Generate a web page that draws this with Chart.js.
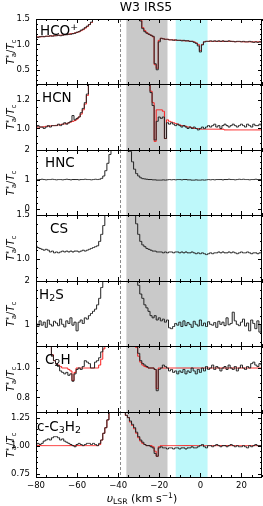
<!DOCTYPE html>
<html>
<head>
<meta charset="utf-8">
<script src="https://cdn.jsdelivr.net/npm/chart.js@4/dist/chart.umd.min.js"></script>
<style>
  body { margin: 0; background: #fff; }
  #wrap { position: relative; width: 263px; height: 506px; overflow: hidden; font-family: 'DejaVu Sans', sans-serif; color: #000; }
  #wrap canvas { position: absolute; left: 0; top: 0; }
  .txt { position: absolute; white-space: nowrap; line-height: 1; }
  .mol { font-size: 13.5px; }
  .ylab { font-size: 10px; transform: translate(-50%, -50%) rotate(-90deg); }
  .sup { font-size: 70%; position: relative; top: -0.5em; }
  .sub { font-size: 70%; position: relative; top: 0.3em; }
  i { font-family: 'DejaVu Sans', sans-serif; }
</style>
</head>
<body>
<div id="wrap"></div>
<script>
// velocity grid (km/s)
const velocity = [
  -80, -79, -78, -77, -76, -75, -74, -73, -72, -71,
  -70, -69, -68, -67, -66, -65, -64, -63, -62, -61,
  -60, -59, -58, -57, -56, -55, -54, -53, -52, -51,
  -50, -49, -48, -47, -46, -45, -44, -43, -42, -41,
  -40, -39, -38, -37, -36, -35, -34, -33, -32, -31,
  -30, -29, -28, -27, -26, -25, -24, -23, -22, -21,
  -20, -19, -18, -17, -16, -15, -14, -13, -12, -11,
  -10, -9, -8, -7, -6, -5, -4, -3, -2, -1,
  0, 1, 2, 3, 4, 5, 6, 7, 8, 9,
  10, 11, 12, 13, 14, 15, 16, 17, 18, 19,
  20, 21, 22, 23, 24, 25, 26, 27, 28, 29,
  30
];

const hcoObs = [
  1.15, 1.14, 1.15, 1.16, 1.15, 1.16, 1.16, 1.17, 1.16, 1.17,
  1.17, 1.18, 1.17, 1.18, 1.19, 1.19, 1.20, 1.20, 1.21, 1.22,
  1.24, 1.25, 1.28, 1.30, 1.33, 1.36, 1.39, 1.44, 1.49, 1.56,
  1.66, 1.80, 2.00, 2.30, 2.60, 3.00, 3.00, 3.00, 3.00, 3.00,
  3.00, 3.00, 3.00, 3.00, 3.00, 3.00, 3.00, 3.00, 2.60, 2.00,
  1.70, 1.46, 1.31, 1.25, 1.22, 1.20, 1.18, 1.16, 0.62, 0.50,
  1.05, 1.12, 1.11, 1.10, 1.10, 1.09, 1.09, 1.08, 1.09, 1.08,
  1.08, 1.07, 1.08, 1.07, 1.07, 1.06, 1.06, 1.04, 1.02, 0.97,
  0.85, 0.99, 1.05, 1.06, 1.06, 1.07, 1.06, 1.07, 1.06, 1.07,
  1.06, 1.07, 1.06, 1.06, 1.07, 1.06, 1.06, 1.05, 1.06, 1.06,
  1.05, 1.06, 1.05, 1.05, 1.06, 1.05, 1.04, 1.05, 1.04, 1.05,
  1.04
];
const hcoFit = [
  1.14, 1.145, 1.15, 1.15, 1.155, 1.16, 1.16, 1.165, 1.17, 1.17,
  1.175, 1.18, 1.18, 1.185, 1.19, 1.195, 1.20, 1.21, 1.215, 1.225,
  1.235, 1.25, 1.27, 1.29, 1.32, 1.35, 1.39, 1.43, 1.49, 1.56,
  1.68, 1.85, 2.10, 2.40, 2.80, 3.00, 3.00, 3.00, 3.00, 3.00,
  3.00, 3.00, 3.00, 3.00, 3.00, 3.00, 3.00, 3.00, 2.70, 2.10,
  1.72, 1.48, 1.33, 1.27, 1.23, 1.20, 1.18, 1.15, 0.60, 0.53,
  1.08, 1.12, 1.11, 1.10, 1.10, 1.09, 1.09, 1.09, 1.08, 1.08,
  1.08, 1.08, 1.07, 1.07, 1.07, 1.06, 1.06, 1.05, 1.03, 1.00,
  0.88, 1.00, 1.05, 1.06, 1.06, 1.06, 1.06, 1.06, 1.06, 1.06,
  1.06, 1.06, 1.06, 1.06, 1.06, 1.06, 1.055, 1.055, 1.055, 1.055,
  1.055, 1.05, 1.05, 1.05, 1.05, 1.05, 1.05, 1.05, 1.05, 1.05,
  1.05
];

const hcnObs = [
  1.01, 1.02, 1.01, 1.01, 1.00, 1.01, 1.02, 1.01, 1.02, 1.02,
  1.02, 1.03, 1.02, 1.03, 1.04, 1.03, 1.04, 1.05, 1.09, 1.06,
  1.07, 1.08, 1.11, 1.14, 1.18, 1.24, 1.32, 1.45, 1.70, 2.00,
  2.50, 2.50, 2.50, 2.50, 2.50, 2.50, 2.50, 2.50, 2.50, 2.50,
  2.50, 2.50, 2.50, 2.50, 2.50, 2.50, 2.50, 2.50, 2.50, 2.50,
  2.50, 2.50, 2.50, 2.50, 2.50, 2.50, 1.25, 1.16, 0.92, 1.05,
  1.08, 1.07, 1.08, 0.93, 1.04, 1.03, 1.04, 1.03, 1.02, 1.03,
  1.02, 1.01, 1.02, 1.01, 1.00, 1.01, 1.00, 1.01, 1.00, 0.99,
  1.00, 1.01, 1.00, 1.01, 1.02, 1.01, 1.02, 1.03, 1.01, 1.02,
  1.00, 1.02, 1.03, 1.02, 1.01, 1.02, 1.03, 1.02, 1.01, 1.02,
  1.03, 1.02, 1.01, 1.03, 1.02, 1.01, 1.03, 1.02, 1.02, 1.03,
  1.02
];
const hcnFit = [
  1.01, 1.01, 1.01, 1.01, 1.012, 1.015, 1.015, 1.018, 1.02, 1.02,
  1.022, 1.025, 1.028, 1.03, 1.032, 1.035, 1.04, 1.045, 1.05, 1.055,
  1.065, 1.08, 1.10, 1.13, 1.17, 1.23, 1.32, 1.45, 1.65, 2.00,
  2.50, 2.50, 2.50, 2.50, 2.50, 2.50, 2.50, 2.50, 2.50, 2.50,
  2.50, 2.50, 2.50, 2.50, 2.50, 2.50, 2.50, 2.50, 2.50, 2.50,
  2.50, 2.50, 2.50, 2.50, 2.50, 2.50, 1.26, 1.18, 0.91, 1.13,
  1.13, 1.13, 1.12, 0.93, 1.06, 1.05, 1.045, 1.04, 1.035, 1.03,
  1.025, 1.02, 1.02, 1.015, 1.01, 1.01, 1.005, 1.00, 1.00, 1.00,
  0.995, 0.995, 0.995, 0.995, 0.995, 0.995, 0.995, 0.995, 0.995, 0.995,
  0.995, 0.995, 0.99, 0.99, 0.99, 0.99, 0.99, 0.99, 0.99, 0.99,
  0.99, 0.99, 0.99, 0.99, 0.99, 0.99, 0.99, 0.99, 0.99, 0.99,
  0.99
];

const hncObs = [
  1.00, 0.99, 1.00, 1.01, 1.00, 0.99, 1.00, 1.00, 1.01, 1.00,
  0.99, 1.00, 1.00, 0.99, 1.00, 1.01, 1.00, 0.99, 1.00, 1.00,
  1.00, 0.99, 1.00, 1.00, 1.01, 1.00, 1.00, 0.99, 1.00, 1.01,
  1.00, 1.01, 1.04, 1.12, 1.30, 1.55, 1.85, 2.30, 3.00, 3.00,
  3.00, 3.00, 3.00, 3.00, 3.00, 2.50, 1.95, 1.60, 1.35, 1.20,
  1.12, 1.06, 1.03, 1.02, 1.01, 1.00, 1.00, 0.99, 0.99, 0.98,
  0.98, 0.98, 0.99, 0.98, 0.99, 1.00, 0.99, 1.00, 0.99, 1.00,
  1.00, 0.99, 1.00, 1.00, 0.99, 0.99, 0.98, 0.98, 0.99, 0.98,
  0.98, 0.99, 0.98, 0.99, 1.00, 0.99, 1.00, 0.99, 1.00, 1.00,
  1.00, 0.99, 1.00, 1.00, 1.01, 1.00, 1.00, 0.99, 1.00, 1.01,
  1.00, 1.01, 1.00, 1.00, 0.99, 1.00, 1.00, 1.01, 1.00, 1.00,
  1.00
];

const csObs = [
  1.15, 1.13, 1.12, 1.11, 1.10, 1.11, 1.10, 1.08, 1.09, 1.07,
  1.08, 1.07, 1.08, 1.09, 1.08, 1.09, 1.08, 1.09, 1.08, 1.09,
  1.09, 1.08, 1.09, 1.10, 1.09, 1.10, 1.11, 1.12, 1.13, 1.14,
  1.15, 1.20, 1.28, 1.38, 1.70, 2.50, 2.50, 2.50, 2.50, 2.50,
  2.50, 2.50, 2.50, 2.50, 2.50, 2.50, 2.50, 2.50, 2.20, 1.40,
  1.28, 1.20, 1.16, 1.14, 1.12, 1.11, 1.10, 1.09, 1.09, 1.08,
  1.08, 1.08, 1.07, 1.08, 1.07, 1.08, 1.08, 1.07, 1.08, 1.08,
  1.07, 1.08, 1.07, 1.08, 1.07, 1.07, 1.08, 1.07, 1.06, 1.07,
  1.06, 1.07, 1.06, 1.05, 1.06, 1.07, 1.06, 1.07, 1.07, 1.08,
  1.07, 1.08, 1.07, 1.07, 1.08, 1.07, 1.08, 1.07, 1.06, 1.07,
  1.08, 1.07, 1.07, 1.08, 1.07, 1.06, 1.07, 1.07, 1.06, 1.07,
  1.07
];

const h2sObs = [
  1.02, 0.95, 1.08, 0.98, 1.05, 0.93, 1.10, 1.00, 0.96, 1.07,
  1.03, 0.97, 1.12, 1.00, 0.94, 1.08, 1.02, 1.15, 0.98, 1.05,
  0.85, 1.05, 1.10, 1.02, 1.15, 1.12, 1.20, 1.25, 1.30, 1.35,
  1.45, 1.60, 1.85, 2.50, 3.00, 3.00, 3.00, 3.00, 3.00, 3.00,
  3.00, 3.00, 3.00, 3.00, 3.00, 3.00, 3.00, 3.00, 3.00, 2.40,
  1.90, 1.70, 1.60, 1.45, 1.38, 1.30, 1.20, 1.15, 1.20, 1.10,
  1.15, 1.08, 1.12, 1.05, 1.10, 0.92, 0.90, 0.95, 1.02, 0.98,
  1.05, 0.95, 1.08, 0.97, 1.04, 1.00, 0.93, 1.07, 1.00, 0.96,
  1.10, 0.97, 1.03, 0.95, 1.06, 1.00, 0.98, 1.04, 0.93, 1.07,
  1.00, 1.05, 0.97, 1.15, 0.99, 1.02, 1.28, 1.08, 1.00, 0.97,
  1.05, 1.12, 0.96, 1.03, 0.85, 1.10, 1.02, 0.90, 1.08, 0.82,
  1.00
];

const c2hObs = [
  1.60, 1.55, 1.50, 1.45, 1.40, 1.30, 1.22, 1.16, 1.08, 1.05,
  1.03, 1.01, 0.98, 0.97, 0.96, 0.97, 0.95, 0.96, 0.91, 0.96,
  0.99, 1.00, 0.99, 1.01, 1.05, 1.04, 1.03, 1.00, 1.00, 1.04,
  1.05, 1.07, 1.11, 1.25, 1.60, 2.00, 2.00, 2.00, 2.00, 2.00,
  2.00, 2.00, 2.00, 2.00, 2.00, 2.00, 2.00, 2.00, 1.60, 1.20,
  1.10, 1.05, 1.03, 1.02, 1.01, 1.00, 1.00, 1.00, 0.99, 0.845,
  0.99, 1.00, 1.02, 1.01, 1.00, 0.98, 0.99, 0.97, 0.98, 0.96,
  0.98, 0.97, 0.99, 0.96, 0.98, 0.97, 1.00, 0.98, 0.96, 0.99,
  0.97, 1.00, 0.98, 1.01, 0.99, 1.00, 1.02, 0.99, 1.01, 1.00,
  0.98, 1.00, 1.01, 0.99, 1.02, 1.00, 0.99, 1.01, 0.98, 1.00,
  1.02, 1.00, 0.99, 1.01, 1.00, 1.03, 1.04, 1.02, 1.01, 1.03,
  1.02
];
const c2hFit = [
  1.60, 1.55, 1.50, 1.45, 1.40, 1.32, 1.24, 1.16, 1.09, 1.05,
  1.03, 1.02, 1.01, 1.00, 1.00, 1.00, 0.99, 0.98, 0.915, 0.97,
  1.00, 1.00, 1.00, 1.00, 1.00, 1.00, 1.00, 1.00, 1.00, 1.00,
  1.00, 1.02, 1.06, 1.13, 1.30, 2.00, 2.00, 2.00, 2.00, 2.00,
  2.00, 2.00, 2.00, 2.00, 2.00, 2.00, 2.00, 2.00, 1.60, 1.14,
  1.08, 1.04, 1.02, 1.01, 1.005, 1.00, 1.00, 1.00, 0.99, 0.86,
  1.00, 1.00, 1.00, 1.00, 1.00, 1.00, 1.00, 1.00, 1.00, 1.00,
  1.00, 1.00, 1.00, 1.00, 1.00, 1.00, 1.00, 1.00, 1.00, 1.00,
  1.00, 1.00, 1.00, 1.00, 1.00, 1.00, 1.00, 1.00, 1.00, 1.00,
  1.00, 1.00, 1.00, 1.00, 1.00, 1.00, 1.00, 1.00, 1.00, 1.00,
  1.00, 1.00, 1.00, 1.00, 1.00, 1.00, 1.00, 1.00, 1.00, 1.00,
  1.00
];

const cc3h2Obs = [
  1.01, 1.02, 1.01, 1.02, 1.04, 1.05, 1.06, 1.05, 1.07, 1.08,
  1.08, 1.07, 1.05, 1.06, 1.04, 1.03, 1.02, 1.01, 1.00, 0.99,
  1.01, 1.02, 1.01, 1.00, 1.01, 1.02, 1.02, 1.01, 1.02, 1.01,
  1.00, 1.02, 1.05, 1.11, 1.16, 1.23, 1.60, 2.00, 2.00, 2.00,
  2.00, 2.00, 2.00, 2.00, 1.27, 1.25, 1.22, 1.19, 1.16, 1.12,
  1.08, 1.05, 1.03, 1.01, 1.00, 1.00, 0.99, 0.98, 0.93, 0.905,
  0.98, 0.99, 0.98, 0.98, 0.97, 0.98, 0.98, 0.97, 0.98, 0.98,
  0.97, 0.98, 0.98, 0.97, 0.98, 0.98, 0.99, 0.98, 0.98, 0.99,
  1.00, 1.01, 0.99, 0.98, 1.00, 1.00, 0.99, 1.00, 1.01, 1.00,
  0.99, 1.00, 1.00, 0.99, 1.00, 1.01, 1.00, 0.99, 1.00, 0.99,
  0.99, 1.00, 0.99, 0.98, 1.00, 0.99, 1.00, 1.01, 1.00, 1.00,
  1.00
];
const cc3h2Fit = [
  1.00, 1.00, 1.00, 1.00, 1.00, 1.00, 1.00, 1.00, 1.00, 1.00,
  1.00, 1.00, 1.00, 1.00, 1.00, 1.00, 1.00, 1.00, 1.00, 1.00,
  1.00, 1.00, 1.00, 1.00, 1.00, 1.00, 1.00, 1.00, 1.00, 1.00,
  1.00, 1.01, 1.05, 1.11, 1.16, 1.23, 1.60, 2.00, 2.00, 2.00,
  2.00, 2.00, 2.00, 2.00, 1.27, 1.25, 1.21, 1.18, 1.15, 1.11,
  1.07, 1.04, 1.02, 1.01, 1.00, 1.00, 1.00, 0.99, 0.95, 0.905,
  0.99, 1.00, 1.00, 1.00, 1.00, 1.00, 1.00, 1.00, 1.00, 1.00,
  1.00, 1.00, 1.00, 1.00, 1.00, 1.00, 1.00, 1.00, 1.00, 1.00,
  1.00, 1.00, 1.00, 1.00, 1.00, 1.00, 1.00, 1.00, 1.00, 1.00,
  1.00, 1.00, 1.00, 1.00, 1.00, 1.00, 1.00, 1.00, 1.00, 1.00,
  1.00, 1.00, 1.00, 1.00, 1.00, 1.00, 1.00, 1.00, 1.00, 1.00,
  1.00
];

// axis settings
const xMin = -80, xMax = 30;
const xTickValues = [-80, -60, -40, -20, 0, 20];
const xTickLabels = ['\u221280', '\u221260', '\u221240', '\u221220', '0', '20'];
const grayBand = [-36, -16];
const cyanBand = [-12, 3.5];
const dashedAt = -39;

const molNames = ['HCO<span class="sup">+</span>', 'HCN', 'HNC', 'CS', 'H<span class="sub">2</span>S', 'C<span class="sub">2</span>H', 'c-C<span class="sub">3</span>H<span class="sub">2</span>'];
const yRanges = [[0.22, 1.5], [0.85, 1.31], [-0.2, 2.0], [0.75, 1.5], [0.5, 2.0], [0.7, 1.15], [0.72, 1.30]];
const yTickValues = [[0.5, 1.0, 1.5], [1.0, 1.2], [0, 1, 2], [1.0, 1.5], [1, 2], [0.8, 1.0], [0.75, 1.0, 1.25]];
const yTickLabels = [['0.5', '1.0', '1.5'], ['1.0', '1.2'], ['0', '1', '2'], ['1.0', '1.5'], ['1', '2'], ['0.8', '1.0'], ['0.75', '1.00', '1.25']];
const yMinorSteps = [0.1, 0.05, 0.2, 0.1, 0.2, 0.05, 0.05];
const observed = [hcoObs, hcnObs, hncObs, csObs, h2sObs, c2hObs, cc3h2Obs];
const fitted = [hcoFit, hcnFit, null, null, null, c2hFit, cc3h2Fit];

const panelTops = [19, 84, 150, 215, 281, 346, 412];
const panelBottom = 477;
const molPos = [[40, 23.5], [42, 90.5], [45, 155.5], [50, 221.5], [39, 287.5], [45, 352.5], [37, 419.5]];

const tickFont = {family: 'DejaVu Sans', size: 8.5};

const panelDecor = {
  id: 'panelDecor',
  beforeDatasetsDraw(chart) {
    const {ctx, chartArea: a, scales: {x}} = chart;
    ctx.save();
    ctx.fillStyle = 'rgb(201,201,201)';
    let x0 = x.getPixelForValue(grayBand[0]), x1 = x.getPixelForValue(grayBand[1]);
    ctx.fillRect(x0, a.top, x1 - x0, a.bottom - a.top);
    ctx.fillStyle = 'rgb(190,248,250)';
    x0 = x.getPixelForValue(cyanBand[0]); x1 = x.getPixelForValue(cyanBand[1]);
    ctx.fillRect(x0, a.top, x1 - x0, a.bottom - a.top);
    const xd = Math.round(x.getPixelForValue(dashedAt)) + 0.5;
    ctx.strokeStyle = '#8a8a8a';
    ctx.lineWidth = 1;
    ctx.setLineDash([3, 2]);
    ctx.beginPath();
    ctx.moveTo(xd, a.top);
    ctx.lineTo(xd, a.bottom);
    ctx.stroke();
    ctx.restore();
  },
  afterDatasetsDraw(chart, args, opts) {
    const {ctx, chartArea: a, scales: {x, y}} = chart;
    ctx.save();
    ctx.strokeStyle = '#000';
    ctx.lineWidth = 1;
    ctx.beginPath();
    // x ticks, inward on top and bottom
    for (let v = xMin; v <= xMax; v += 5) {
      const px = Math.round(x.getPixelForValue(v)) + 0.5;
      const len = xTickValues.includes(v) ? 4 : 2;
      ctx.moveTo(px, a.top); ctx.lineTo(px, a.top + len);
      ctx.moveTo(px, a.bottom); ctx.lineTo(px, a.bottom - len);
    }
    // y ticks, inward on left and right
    const step = opts.minor;
    const start = Math.ceil(y.min / step - 1e-6);
    for (let k = start; k * step <= y.max + 1e-6; k++) {
      const v = k * step;
      const py = Math.round(y.getPixelForValue(v)) + 0.5;
      const len = opts.major.some(m => Math.abs(m - v) < 1e-6) ? 4 : 2;
      ctx.moveTo(a.left, py); ctx.lineTo(a.left + len, py);
      ctx.moveTo(a.right, py); ctx.lineTo(a.right - len, py);
    }
    ctx.stroke();
    ctx.strokeRect(a.left + 0.5, a.top + 0.5, a.right - a.left - 1, a.bottom - a.top);
    ctx.restore();
  }
};

const wrap = document.getElementById('wrap');

function toPoints(arr) {
  return velocity.map((v, k) => ({x: v, y: arr[k]}));
}

observed.forEach((obs, i) => {
  const canvas = document.createElement('canvas');
  canvas.width = 263;
  canvas.height = 506;
  wrap.appendChild(canvas);

  const top = panelTops[i];
  const bottom = i < panelTops.length - 1 ? panelTops[i + 1] : panelBottom;
  const isLast = i === panelTops.length - 1;

  const datasets = [{
    data: toPoints(obs),
    borderColor: '#222',
    borderWidth: 1,
    pointRadius: 0,
    stepped: 'middle',
    clip: 0
  }];
  if (fitted[i]) {
    datasets.push({
      data: toPoints(fitted[i]),
      borderColor: 'rgb(250,30,30)',
      borderWidth: 1,
      pointRadius: 0,
      stepped: 'middle',
      clip: 0
    });
  }

  new Chart(canvas, {
    type: 'line',
    data: {datasets},
    options: {
      responsive: false,
      animation: false,
      devicePixelRatio: 1,
      events: [],
      layout: {padding: {top: top, bottom: isLast ? 506 - bottom - 15 : 506 - bottom, left: 0, right: 1}},
      plugins: {
        legend: {display: false},
        tooltip: {enabled: false},
        panelDecor: {major: yTickValues[i], minor: yMinorSteps[i]}
      },
      scales: {
        x: {
          type: 'linear',
          min: xMin,
          max: xMax,
          display: isLast,
          grid: {display: false, drawTicks: false},
          border: {display: false},
          afterBuildTicks: s => { s.ticks = xTickValues.map(v => ({value: v})); },
          afterFit: isLast ? (s => { s.height = 15; }) : undefined,
          ticks: {
            font: tickFont, color: '#000', padding: 4, maxRotation: 0, autoSkip: false,
            callback: (v, idx) => xTickLabels[idx]
          }
        },
        y: {
          type: 'linear',
          min: yRanges[i][0],
          max: yRanges[i][1],
          grid: {display: false, drawTicks: false},
          border: {display: false},
          afterBuildTicks: s => { s.ticks = yTickValues[i].map(v => ({value: v})); },
          afterFit: s => { s.width = 36; },
          ticks: {
            font: tickFont, color: '#000', padding: 6, autoSkip: false,
            callback: (v, idx) => yTickLabels[i][idx]
          }
        }
      }
    },
    plugins: [panelDecor]
  });

  // molecule label
  const mol = document.createElement('div');
  mol.className = 'txt mol';
  mol.style.left = molPos[i][0] + 'px';
  mol.style.top = molPos[i][1] + 'px';
  mol.innerHTML = molNames[i];
  wrap.appendChild(mol);

  // y label
  const yl = document.createElement('div');
  yl.className = 'txt ylab';
  yl.style.left = '11px';
  yl.style.top = ((top + bottom) / 2) + 'px';
  yl.innerHTML = '<i>T</i><span class="sup">*</span><span class="sub" style="margin-left:-0.35em">a</span>/<i>T</i><span class="sub">c</span>';
  wrap.appendChild(yl);
});

const title = document.createElement('div');
title.className = 'txt';
title.style.cssText = 'left:146px;top:1px;transform:translateX(-50%);font-size:12.5px;';
title.textContent = 'W3 IRS5';
wrap.appendChild(title);

const xl = document.createElement('div');
xl.className = 'txt';
xl.style.cssText = 'left:142px;top:493px;transform:translateX(-50%);font-size:11px;';
xl.innerHTML = '<i>\u03c5</i><span class="sub">LSR</span> (km s<span class="sup">\u22121</span>)';
wrap.appendChild(xl);
</script>
</body>
</html>
